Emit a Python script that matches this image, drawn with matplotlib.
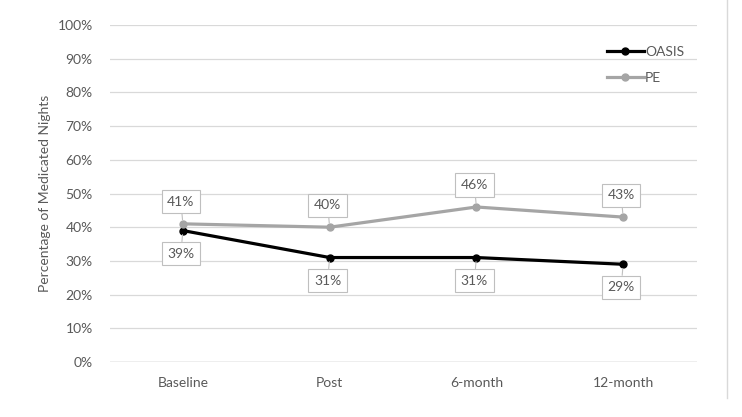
import numpy as np
import matplotlib.pyplot as plt
from matplotlib.lines import Line2D

plt.rcParams['font.family'] = ['Lato', 'DejaVu Sans']

timepoints = ['Baseline', 'Post', '6-month', '12-month']
oasis = [39, 31, 31, 29]
pe = [41, 40, 46, 43]
yticks = np.arange(0, 101, 10)

txt = '#595959'
grid = '#d9d9d9'

fig = plt.figure(figsize=(7.42, 4.17), dpi=100)
ax = fig.add_axes([0.1476, 0.1319, 0.7911, 0.8081])

x = np.arange(len(timepoints))
ax.plot(x, oasis, color='black', lw=2.3, marker='o', ms=5, label='OASIS', zorder=3)
ax.plot(x, pe, color='#a5a5a5', lw=2.3, marker='o', ms=5, label='PE', zorder=3)

# data labels as boxed callouts
box = dict(boxstyle='square,pad=0.4', fc='white', ec='#bfbfbf', lw=0.8)
arrow = dict(arrowstyle='-', color='#bfbfbf', lw=0.8, shrinkA=0, shrinkB=3)
for xi, v in zip(x, pe):
    ax.annotate(f'{v}%', (xi, v), xytext=(-2, 22), textcoords='offset pixels',
                ha='center', va='center', fontsize=10, color=txt,
                bbox=box, arrowprops=arrow, zorder=4)
for xi, v in zip(x, oasis):
    ax.annotate(f'{v}%', (xi, v), xytext=(-2, -23), textcoords='offset pixels',
                ha='center', va='center', fontsize=10, color=txt,
                bbox=box, arrowprops=arrow, zorder=4)

ax.set_xlim(-0.5, len(timepoints) - 0.5)
ax.set_ylim(0, 100)
ax.set_xticks(x)
ax.set_xticklabels(timepoints)
ax.set_yticks(yticks)
ax.set_yticklabels([f'{t}%' for t in yticks])
ax.tick_params(length=0, labelsize=10, colors=txt)
ax.tick_params(axis='y', pad=12)
ax.tick_params(axis='x', pad=11)
ax.grid(axis='y', color=grid, lw=0.9)
ax.set_axisbelow(True)
for s in ax.spines.values():
    s.set_visible(False)
ax.axhline(0, color='#bfbfbf', lw=1)

ax.set_ylabel('Percentage of Medicated Nights', fontsize=10, color=txt, labelpad=5)

ax.legend(loc='upper right', bbox_to_anchor=(1.0, 0.975), frameon=False,
          fontsize=10, labelcolor=txt, handlelength=2.6, handletextpad=0.1,
          labelspacing=1.0)

fig.add_artist(Line2D([0.98, 0.98], [0.045, 1.0], color='#d9d9d9', lw=1))

fig.savefig('out.png', dpi=100)
